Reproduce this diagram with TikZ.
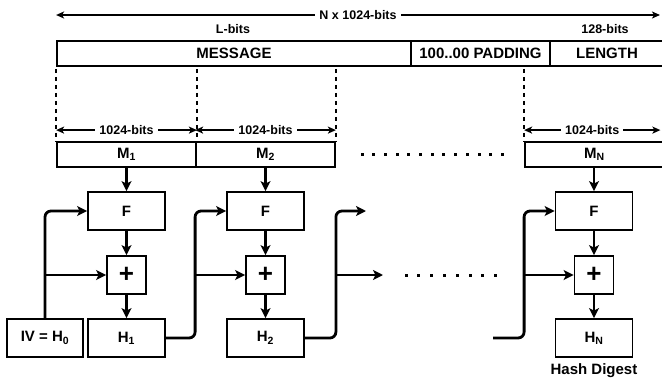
\documentclass[tikz,border=0pt]{standalone}
\usepackage{fontspec}
\setmainfont{Liberation Sans}
\usetikzlibrary{arrows.meta,positioning}

\begin{document}
\begin{tikzpicture}[x=1pt, y=-1pt, >={Stealth[length=10pt,width=10pt,inset=2.5pt]},
  blk/.style={draw, line width=1.8pt, inner sep=0pt, minimum height=38pt, font=\fontsize{15}{18}\selectfont\bfseries},
  seg/.style={blk, minimum width=139pt, minimum height=25pt},
  flow/.style={->, line width=2.8pt, rounded corners=6pt},
  dim/.style={>={Stealth[length=8pt,width=7pt,inset=2pt]}, <->, line width=1.5pt},
  dimlbl/.style={fill=white, inner sep=4pt, font=\fontsize{12.5}{14}\selectfont\bfseries},
  guide/.style={line width=1.5pt, dash pattern=on 4.5pt off 3.5pt}]
\useasboundingbox (0,0) rectangle (662,383);
\clip (0,0) rectangle (662,383);

% 填充后的消息
\node[seg, minimum width=354pt] (msg) at (234,53.5) {MESSAGE};
\node[seg] (pad) at (480.5,53.5) {100..00 PADDING};
\node[seg, minimum width=114pt] (len) at (607,53.5) {LENGTH};
\node[dimlbl, fill=none] (lbits) at (233,29) {L-bits};
\node[dimlbl, fill=none] (lenbits) at (605,29) {128-bits};
\coordinate (totR) at (660,15);
\draw[dim] (msg.west |- totR) -- (totR) node[dimlbl, midway] {N x 1024-bits};

% 分块
\node[seg] (m1) at (126.5,154.5) {M\textsubscript{1}};
\node[seg] (m2) at (265.5,154.5) {M\textsubscript{2}};
\node[seg] (mN) at (594.5,154.5) {M\textsubscript{N}};
\foreach \c in {m1.north west, m1.north east, m2.north east, mN.north west}
  \draw[guide] (\c |- msg.south) ++(0,2) -- (\c);
\draw[dim] ([yshift=11pt]m1.north west) -- ([yshift=11pt]m1.north east) node[dimlbl, midway] {1024-bits};
\draw[dim] ([yshift=11pt]m2.north west) -- ([yshift=11pt]m2.north east) node[dimlbl, midway] {1024-bits};
\draw[dim] ([yshift=11pt]mN.north west) -- ([yshift=11pt, xshift=-4.5pt]mN.north east) node[dimlbl, midway] {1024-bits};
\foreach \i in {0,...,12} \fill (360.5+\i*11.7,152.5) rectangle ++(3,3);

% 压缩函数
\node[blk, minimum width=77pt] (f1) at (126.5,211) {F};
\node[blk, minimum width=39pt, font=\fontsize{26}{26}\selectfont\bfseries] (p1) at (126.5,275) {+};
\node[blk, minimum width=77pt] (h1) at (126.5,338) {H\textsubscript{1}};
\node[blk, minimum width=76pt] (iv) at (45,338) {IV = H\textsubscript{0}};
\node[blk, minimum width=77pt] (f2) at (265.5,211) {F};
\node[blk, minimum width=39pt, font=\fontsize{26}{26}\selectfont\bfseries] (p2) at (265.5,275) {+};
\node[blk, minimum width=77pt] (h2) at (265.5,338) {H\textsubscript{2}};
\node[blk, minimum width=77pt] (fN) at (594,211) {F};
\node[blk, minimum width=39pt, font=\fontsize{26}{26}\selectfont\bfseries] (pN) at (594,275) {+};
\node[blk, minimum width=77pt] (hN) at (594,338) {H\textsubscript{N}};
\node[font=\fontsize{15}{18}\selectfont\bfseries, inner sep=2pt, below=4pt of hN] (digest) {Hash Digest};

% 连线
\draw[flow] (m1.south) -- (f1.north);
\draw[flow] (f1.south) -- (p1.north);
\draw[flow] (p1.south) -- (h1.north);
\draw[flow] (m2.south) -- (f2.north);
\draw[flow] (f2.south) -- (p2.north);
\draw[flow] (p2.south) -- (h2.north);
\draw[flow] (mN.south -| fN.north) -- (fN.north);
\draw[flow] (fN.south) -- (pN.north);
\draw[flow] (pN.south) -- (hN.north);

\draw[flow] (iv.north) |- (f1.west);
\draw[flow] (iv.north |- p1.west) -- (p1.west);
\draw[flow] (h1.east) -- (h1.east -| m2.west) |- (f2.west);
\draw[flow] (m2.west |- p2.west) -- (p2.west);
\coordinate (out2) at (366,211);
\coordinate (out2b) at (383,275);
\draw[flow] (h2.east) -- (h2.east -| m2.east) |- (out2);
\draw[flow] (m2.east |- out2b) -- (out2b);
\foreach \i in {0,...,7} \fill (404.5+\i*12.8,273.5) rectangle ++(3,3);
\coordinate (inN) at (493,338);
\draw[flow] (inN) -- (inN -| mN.west) |- (fN.west);
\draw[flow] (mN.west |- pN.west) -- (pN.west);
\end{tikzpicture}
\end{document}
